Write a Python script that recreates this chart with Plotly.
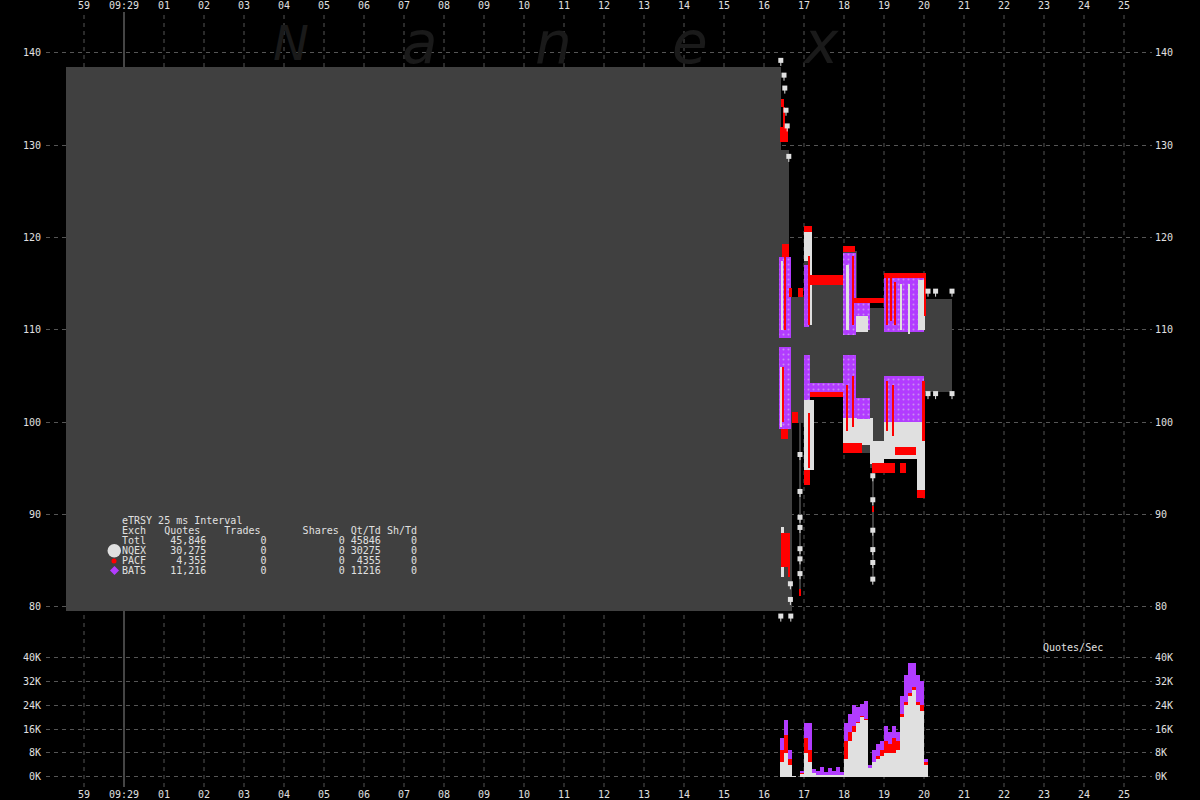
import plotly.graph_objects as go

W, H = 1200, 800
TXT = "#e0e0e0"
GRID = "#555555"
GRAY = "#404040"
C_NQEX = "#e0e0e0"
C_PACF = "#ff0000"
C_BATS = "#b23cff"
MONO = "DejaVu Sans Mono"

# ---------------- axis ticks ----------------
tick_secs = list(range(-1, 26))
tick_text = ["59", "09:29"] + [f"{s:02d}" for s in range(1, 26)]
price_ticks = [80, 90, 100, 110, 120, 130, 140]
vol_ticks = [0, 8, 16, 24, 32, 40]
vol_tick_text = ["0K", "8K", "16K", "24K", "32K", "40K"]

# ---------------- NBBO spread (gray) : seconds after 09:29:00, prices ----------------
spread_t0 = [-1.45, 16.425, 16.625, 16.70, 17.00, 17.15, 17.975, 18.325, 18.65, 19.00, 20.025, 16.875, 18.70]
spread_t1 = [16.425, 16.625, 16.70, 17.00, 17.15, 17.975, 18.325, 18.65, 19.00, 20.025, 20.70, 16.925, 18.75]
spread_bid = [79.6, 79.6, 79.6, 99.9, 93.5, 102.7, 96.7, 96.7, 95.0, 97.5, 103.3, 81.5, 83.0]
spread_ask = [138.5, 129.5, 113.6, 113.6, 120.5, 114.9, 118.5, 113.4, 112.4, 115.6, 113.4, 99.9, 95.0]

# ---------------- quote clusters per exchange (t0, t1, low, high) ----------------
bats_t0 = [16.38, 16.99, 17.975, 18.25, 19.00, 16.38, 16.99, 17.15, 17.975, 18.25, 19.00]
bats_t1 = [16.68, 17.12, 18.30, 18.65, 20.00, 16.68, 17.15, 17.975, 18.30, 18.65, 20.00]
bats_lo = [109.1, 110.3, 109.5, 110.0, 109.8, 99.3, 100.3, 103.3, 100.5, 100.3, 99.8]
bats_hi = [117.9, 117.0, 118.3, 112.9, 115.6, 108.2, 107.3, 104.3, 107.3, 102.6, 105.0]

nqex_t0 = [16.42, 17.00, 17.15, 18.05, 18.30, 19.40, 19.60, 19.85,
           16.42, 17.00, 17.98, 18.25, 18.65, 18.65, 19.00, 19.82, 16.42]
nqex_t1 = [16.47, 17.20, 17.20, 18.12, 18.60, 19.45, 19.63, 20.02,
           16.46, 17.25, 18.325, 18.65, 19.00, 18.72, 20.025, 20.025, 16.50]
nqex_lo = [110.0, 117.5, 110.5, 110.0, 109.8, 110.0, 109.6, 110.0,
           99.5, 94.8, 97.5, 97.5, 95.5, 98.0, 96.0, 92.5, 83.2]
nqex_hi = [117.5, 120.6, 117.5, 117.0, 111.5, 115.0, 115.0, 115.4,
           106.0, 102.4, 100.5, 100.3, 98.0, 100.5, 100.0, 96.0, 88.7]

pacf_t0 = [16.40, 16.42, 16.47, 16.45, 16.50, 16.625, 16.85, 17.00, 17.10, 17.125, 17.975, 18.20,
           18.25, 19.00, 19.05, 19.15, 19.25, 20.00,
           16.45, 16.42, 16.70, 17.00, 17.12, 17.15, 17.975, 18.05, 18.20, 18.70,
           19.275, 19.40, 19.65, 19.82, 19.05, 19.20, 19.95, 16.42, 16.60, 16.89, 18.71]
pacf_t1 = [16.60, 16.50, 16.52, 16.62, 16.54, 16.70, 16.975, 17.20, 17.14, 17.975, 18.275, 18.24,
           19.00, 20.05, 19.08, 19.18, 19.28, 20.05,
           16.48, 16.60, 16.85, 17.15, 17.16, 17.975, 18.45, 18.08, 18.23, 19.275,
           19.65, 19.55, 19.80, 20.025, 19.08, 19.23, 20.02, 16.65, 16.65, 16.91, 18.73]
pacf_lo = [130.4, 134.2, 132.0, 117.9, 110.0, 113.6, 113.6, 120.6, 110.5, 114.9, 118.45, 110.5,
           112.9, 115.6, 110.5, 111.0, 110.5, 111.5,
           100.0, 98.2, 99.9, 93.2, 95.0, 102.7, 96.7, 99.0, 99.5, 94.5,
           96.5, 94.5, 96.5, 91.8, 99.0, 98.5, 98.0, 84.3, 83.2, 81.2, 90.3]
pacf_hi = [132.0, 135.0, 134.2, 119.3, 117.9, 114.5, 114.5, 121.3, 118.0, 116.0, 119.1, 118.0,
           113.5, 116.2, 115.6, 115.6, 115.2, 115.6,
           106.0, 99.3, 101.1, 94.8, 101.0, 103.3, 97.8, 104.0, 105.0, 95.6,
           97.3, 95.6, 97.3, 92.7, 104.5, 104.0, 104.5, 88.0, 84.3, 81.9, 90.9]

# individual NQEX quote pins
pin_t = [16.42, 16.50, 16.52, 16.55, 16.58, 16.62, 16.42, 16.67, 16.66, 16.66,
         16.90, 16.90, 16.90, 16.90, 16.90, 16.90, 16.90,
         18.72, 18.72, 18.72, 18.72, 18.72, 18.72,
         20.10, 20.29, 20.70, 20.10, 20.29, 20.70]
pin_p = [139.2, 137.6, 136.2, 133.8, 132.1, 128.8, 79.0, 79.0, 82.5, 80.8,
         96.5, 92.5, 89.7, 88.6, 86.3, 85.2, 83.6,
         94.2, 91.6, 88.3, 86.2, 84.8, 83.0,
         114.2, 114.2, 114.2, 103.1, 103.1, 103.1]

# ---------------- quotes / sec (thousands), 0.1 s bins ----------------
vol_t = [16.45, 16.55, 16.65, 16.75, 16.85, 16.95, 17.05, 17.15, 17.25, 17.35, 17.45, 17.55,
         17.65, 17.75, 17.85, 17.95, 18.05, 18.15, 18.25, 18.35, 18.45, 18.55, 18.65, 18.75,
         18.85, 18.95, 19.05, 19.15, 19.25, 19.35, 19.45, 19.55, 19.65, 19.75, 19.85, 19.95, 20.05]
nqex_k = [5, 8, 4, 0.3, 0, 1, 8, 5, 1.2, 0.8, 0.8, 0.8, 0.8, 0.8, 0.8, 0.8, 6, 12, 15, 18, 20, 19,
          3, 5, 6, 7, 8, 8, 8, 9, 20, 24, 27, 29, 24, 22, 4]
pacf_k = [4, 6, 2, 0, 0, 0.5, 5, 4, 0, 0, 0, 0, 0, 0, 0, 0, 6, 3, 2, 0.5, 0.5, 0.5,
          0, 0, 1, 2, 4, 3, 5, 3, 1, 1, 1, 1, 1, 2, 1]
bats_k = [4, 5, 3, 0, 0, 0.5, 5, 9, 1.5, 1.2, 2.5, 1.0, 2.2, 1.3, 2.6, 1.0, 6, 6, 7, 5, 4, 6,
          1, 4, 4, 3, 5, 4, 4, 3, 6, 9, 10, 8, 9, 8, 1]

# ---------------- legend table ----------------
leg_names = ["Totl", "NQEX", "PACF", "BATS"]
leg_quotes = ["45,846", "30,275", "4,355", "11,216"]
leg_trades = [0, 0, 0, 0]
leg_shares = [0, 0, 0, 0]
leg_qttd = [45846, 30275, 4355, 11216]
leg_shtd = [0, 0, 0, 0]


def px_x(p):
    return p / W


def px_y(p):
    return 1 - p / H


def seg_bars(t0, t1, lo, hi, color, yaxis="y", pattern=None):
    marker = dict(color=color, line=dict(width=0))
    if pattern:
        marker["pattern"] = pattern
    return go.Bar(
        x=[(a + b) / 2 for a, b in zip(t0, t1)],
        width=[b - a for a, b in zip(t0, t1)],
        base=lo,
        y=[h - l for l, h in zip(lo, hi)],
        marker=marker, xaxis="x", yaxis=yaxis,
        hoverinfo="skip", showlegend=False,
    )


fig = go.Figure()
fig.add_trace(seg_bars(spread_t0, spread_t1, spread_bid, spread_ask, GRAY))
fig.add_trace(seg_bars(bats_t0, bats_t1, bats_lo, bats_hi, C_BATS,
                       pattern=dict(shape=".", fgcolor=C_NQEX, bgcolor=C_BATS, size=5, solidity=0.12)))
fig.add_trace(seg_bars(nqex_t0, nqex_t1, nqex_lo, nqex_hi, C_NQEX))
fig.add_trace(seg_bars(pacf_t0, pacf_t1, pacf_lo, pacf_hi, C_PACF))
fig.add_trace(go.Scatter(
    x=pin_t, y=pin_p, mode="markers", xaxis="x", yaxis="y",
    marker=dict(symbol="square", size=5, color=C_NQEX, line=dict(width=0)),
    error_y=dict(type="data", symmetric=False, array=[0] * len(pin_p),
                 arrayminus=[0.6] * len(pin_p), thickness=1, width=0, color=C_NQEX),
    hoverinfo="skip", showlegend=False))

# quotes/sec stacked manually
base_red = list(nqex_k)
base_pur = [a + b for a, b in zip(nqex_k, pacf_k)]
for vals, base, col in [(nqex_k, [0] * len(nqex_k), C_NQEX), (pacf_k, base_red, C_PACF), (bats_k, base_pur, C_BATS)]:
    fig.add_trace(go.Bar(x=vol_t, y=vals, base=base, width=0.1, xaxis="x", yaxis="y2",
                         marker=dict(color=col, line=dict(width=0)),
                         hoverinfo="skip", showlegend=False))

# dummy traces so the mirrored axes render
for xa, ya in [("x2", "y"), ("x", "y3"), ("x", "y4")]:
    fig.add_trace(go.Scatter(x=[None], y=[None], xaxis=xa, yaxis=ya, showlegend=False, hoverinfo="skip"))

tickfont = dict(family=MONO, size=10, color=TXT)
xr = [-1.95, 25.7]
pr = [77.49, 144.44]
vr = [-2.67, 45.67]

fig.update_layout(
    width=W, height=H, margin=dict(l=0, r=0, t=0, b=0, pad=0),
    paper_bgcolor="#000000", plot_bgcolor="rgba(0,0,0,0)",
    barmode="overlay", bargap=0, showlegend=False,
    xaxis=dict(domain=[px_x(46), px_x(1152)], range=xr, anchor="y2", tickmode="array",
               tickvals=tick_secs, ticktext=tick_text, showgrid=False, zeroline=False,
               showline=False, ticks="", tickfont=tickfont, fixedrange=True, ticklabelstandoff=2),
    xaxis2=dict(overlaying="x", side="top", anchor="y", range=xr, tickmode="array",
                tickvals=tick_secs, ticktext=tick_text, showgrid=False, zeroline=False,
                showline=False, ticks="", tickfont=tickfont, fixedrange=True),
    yaxis=dict(domain=[px_y(630), px_y(12)], range=pr, anchor="x", tickmode="array",
               tickvals=price_ticks, showgrid=True, gridcolor=GRID, griddash="4px,4px",
               gridwidth=1, zeroline=False, showline=False, ticks="", tickfont=tickfont,
               fixedrange=True, ticklabelstandoff=4),
    yaxis3=dict(overlaying="y", side="right", anchor="x", range=pr, tickmode="array",
                tickvals=price_ticks, showgrid=False, zeroline=False, showline=False,
                ticks="", tickfont=tickfont, fixedrange=True, ticklabelstandoff=2),
    yaxis2=dict(domain=[px_y(785), px_y(640)], range=vr, anchor="x", tickmode="array",
                tickvals=vol_ticks, ticktext=vol_tick_text, showgrid=True, gridcolor=GRID,
                griddash="4px,4px", gridwidth=1, zeroline=False, showline=False, ticks="",
                tickfont=tickfont, fixedrange=True, ticklabelstandoff=4),
    yaxis4=dict(overlaying="y2", side="right", anchor="x", range=vr, tickmode="array",
                tickvals=vol_ticks, ticktext=vol_tick_text, showgrid=False, zeroline=False,
                showline=False, ticks="", tickfont=tickfont, fixedrange=True, ticklabelstandoff=2),
)

# vertical grid lines spanning both panels
shapes = []
for s in tick_secs:
    if s == 0:
        line = dict(color="#8a8a8a", width=1)
    else:
        line = dict(color=GRID, width=1, dash="4px,4px")
    shapes.append(dict(type="line", xref="x", yref="paper", x0=s, x1=s,
                       y0=px_y(787), y1=px_y(12), line=line, layer="below"))

# legend symbols
shapes.append(dict(type="circle", xref="paper", yref="paper", x0=px_x(107.5), x1=px_x(121),
                   y0=px_y(557.5), y1=px_y(544), fillcolor=C_NQEX, line=dict(width=0)))
shapes.append(dict(type="circle", xref="paper", yref="paper", x0=px_x(111.5), x1=px_x(116.5),
                   y0=px_y(563.5), y1=px_y(558.5), fillcolor=C_PACF, line=dict(width=0)))
dpath = "M {},{} L {},{} L {},{} L {},{} Z".format(
    px_x(114.5), px_y(566), px_x(119), px_y(570.5), px_x(114.5), px_y(575), px_x(110), px_y(570.5))
shapes.append(dict(type="path", xref="paper", yref="paper", path=dpath,
                   fillcolor=C_BATS, line=dict(width=0)))
fig.update_layout(shapes=shapes)

annotations = []
# watermark
for ch, cx, size in [("N", 291, 48), ("a", 420, 58), ("n", 553, 58), ("e", 690, 58), ("x", 820, 58)]:
    annotations.append(dict(text=ch, xref="paper", yref="paper", x=px_x(cx), y=px_y(43),
                            xanchor="center", yanchor="middle", showarrow=False,
                            font=dict(family="DejaVu Sans", size=size, color="#1a1a1a", style="italic")))

NB = "\u00a0"


def row(name, q, t, s, qt, st):
    return (name.ljust(4) + q.rjust(10) + str(t).rjust(10) + str(s).rjust(13)
            + str(qt).rjust(6) + str(st).rjust(6))


lines = ["eTRSY 25 ms Interval",
         "Exch   Quotes    Trades       Shares  Qt/Td Sh/Td"]
for i in range(len(leg_names)):
    lines.append(row(leg_names[i], leg_quotes[i], leg_trades[i], leg_shares[i], leg_qttd[i], leg_shtd[i]))
for k, ln in enumerate(lines):
    annotations.append(dict(text=ln.replace(" ", NB), xref="paper", yref="paper",
                            x=px_x(120), y=px_y(520.7 + 10 * k), xanchor="left", yanchor="middle",
                            showarrow=False, font=dict(family=MONO, size=10, color=TXT)))

annotations.append(dict(text="Quotes/Sec", xref="paper", yref="paper", x=px_x(1041), y=px_y(647),
                        xanchor="left", yanchor="middle", showarrow=False,
                        font=dict(family=MONO, size=10, color=TXT)))
fig.update_layout(annotations=annotations)

fig.write_html("out.html", config={"displayModeBar": False})
